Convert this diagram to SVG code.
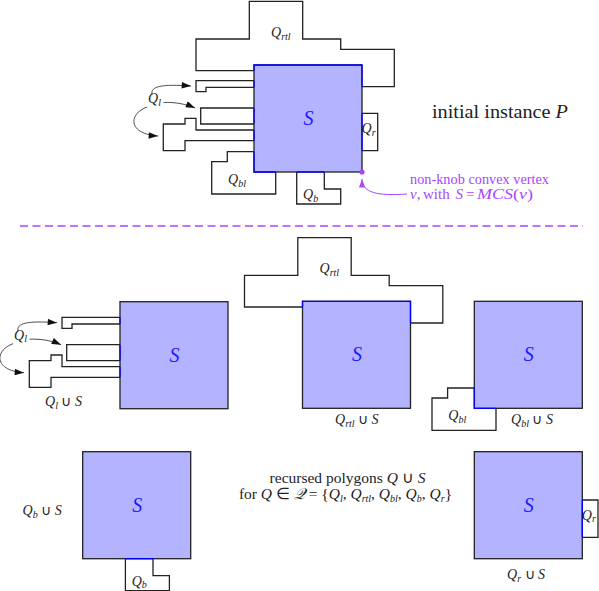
<svg xmlns="http://www.w3.org/2000/svg" xmlns:xlink="http://www.w3.org/1999/xlink" width="599" height="591" viewBox="0 0 599 591">
<style>
.q{fill:none;stroke:#222;stroke-width:1.3;stroke-linejoin:miter}
.sh{fill:none;stroke:#0000ff;stroke-width:1.3}
.s{fill:#b3b3ff;stroke:#222;stroke-width:1.3}
.t{font-family:"Liberation Serif","Times New Roman",serif;font-size:14px;fill:#222}
.i{font-style:italic}
.sub{font-style:italic;font-size:10px}
.sl{font-family:"Liberation Serif","Times New Roman",serif;font-style:italic;font-size:20px;fill:#1a1aff}
.pt{font-family:"Liberation Serif","Times New Roman",serif;font-size:15px;fill:#aa44ff}
.ar{fill:none;stroke:#222;stroke-width:0.8}
.par{fill:none;stroke:#aa44ff;stroke-width:1}
</style>
<defs>
<marker id="ah" viewBox="0 0 10 7" refX="10" refY="3.5" markerWidth="10" markerHeight="6.5" markerUnits="userSpaceOnUse" orient="auto"><path d="M0,0 L10,3.5 L0,7 z" fill="#111"/></marker>
<marker id="ahp" viewBox="0 0 10 7" refX="10" refY="3.5" markerWidth="9" markerHeight="6" markerUnits="userSpaceOnUse" orient="auto"><path d="M0,0 L10,3.5 L0,7 z" fill="#aa44ff"/></marker>
<g id="S"><rect class="s" x="254" y="65" width="108" height="107"/><text class="sl" x="308.5" y="125" text-anchor="middle">S</text></g>
<g id="Qrtl"><polyline class="q" points="254,70.7 196,70.7 196,39 249.3,39 249.3,1.3 302.7,1.3 302.7,39 340.7,39 340.7,49.3 394.3,49.3 394.3,86.7 362,86.7"/><polyline class="sh" points="254,70.7 254,65 362,65 362,86.7"/><text class="t" x="271" y="37"><tspan class="i">Q</tspan><tspan class="sub" dy="2.5">rtl</tspan></text></g>
<g id="Ql"><polyline class="q" points="254,80.7 196,80.7 196,91.7 206,91.7 206,87.3 254,87.3"/><polyline class="q" points="254,108 200.7,108 200.7,124 254,124"/><polyline class="q" points="254,130 196,130 196,118.3 185,118.3 185,124 163.3,124 163.3,150.7 185,150.7 185,140.7 254,140.7"/><line class="sh" x1="254" y1="80.7" x2="254" y2="87.3"/><line class="sh" x1="254" y1="108" x2="254" y2="124"/><line class="sh" x1="254" y1="130" x2="254" y2="140.7"/><text class="t" x="148" y="103"><tspan class="i">Q</tspan><tspan class="sub" dy="2.5">l</tspan></text></g>
<g id="QlArrows"><path class="ar" d="M152,95 C150,86 162,84 191,86" marker-end="url(#ah)"/><path class="ar" d="M163.5,102.5 C175,102 186,104 195,108" marker-end="url(#ah)"/><path class="ar" d="M147,107 C128,114 128,134 158,136" marker-end="url(#ah)"/></g>
<g id="Qr"><polyline class="q" points="362,113.3 377.7,113.3 377.7,150.7 362,150.7"/><line class="sh" x1="362" y1="113.3" x2="362" y2="150.7"/><text class="t" x="361.5" y="133"><tspan class="i">Q</tspan><tspan class="sub" dy="2.5">r</tspan></text></g>
<g id="Qbl"><polyline class="q" points="254,151.7 227.3,151.7 227.3,161.7 211.7,161.7 211.7,194 275.7,194 275.7,172"/><polyline class="sh" points="254,151.7 254,172 275.7,172"/><text class="t" x="228" y="184"><tspan class="i">Q</tspan><tspan class="sub" dy="2.5">bl</tspan></text></g>
<g id="Qb"><polyline class="q" points="296.7,172 296.7,204 340.7,204 340.7,189 324.3,189 324.3,172"/><line class="sh" x1="296.7" y1="172" x2="324.3" y2="172"/><text class="t" x="303" y="199"><tspan class="i">Q</tspan><tspan class="sub" dy="2.5">b</tspan></text></g>
</defs>

<g id="initial-instance">
<use href="#S"/>
<g id="node-Qrtl"><use href="#Qrtl"/></g>
<g id="node-Ql"><use href="#Ql"/></g>
<g id="node-Qr"><use href="#Qr"/></g>
<g id="node-Qbl"><use href="#Qbl"/></g>
<g id="node-Qb"><use href="#Qb"/></g>
<circle cx="362" cy="172" r="2.6" fill="#aa44ff"/>
<text class="t" x="432" y="118" textLength="136" lengthAdjust="spacingAndGlyphs" style="font-size:19px">initial instance <tspan class="i">P</tspan></text>
<text class="pt" x="410" y="184" textLength="139" lengthAdjust="spacingAndGlyphs">non-knob convex vertex</text>
<text class="pt" y="199"><tspan class="i" x="410">v</tspan><tspan>,</tspan><tspan x="423">with</tspan><tspan class="i" x="455.5">S</tspan><tspan x="466">=</tspan></text>
<text class="pt" x="477" y="199" textLength="56" lengthAdjust="spacingAndGlyphs"><tspan class="i">MCS</tspan>(<tspan class="i">v</tspan>)</text>
</g>

<line id="separator" x1="20" y1="226" x2="583" y2="226" stroke="#aa44ff" stroke-width="1.3" stroke-dasharray="8,4.5"/>

<g id="panel-Ql" transform="translate(-134,236.7)"><use href="#S"/><use href="#Ql"/></g>
<g id="panel-Qrtl" transform="translate(48.5,236.3)"><use href="#S"/><use href="#Qrtl"/></g>
<g id="panel-Qbl" transform="translate(220.3,236.3)"><use href="#S"/><use href="#Qbl"/></g>
<g id="panel-Qb" transform="translate(-171.3,386.7)"><use href="#S"/><use href="#Qb"/></g>
<g id="panel-Qr" transform="translate(220.3,386.7)"><use href="#S"/><use href="#Qr"/></g>

<g id="connectors">
<use href="#QlArrows"/>
<use href="#QlArrows" transform="translate(-134,236.7)"/>
<path class="par" d="M407,194 C378,196 362,193 362,179" marker-end="url(#ahp)"/>
</g>

<g id="labels">
<text class="t" x="45" y="406"><tspan class="i">Q</tspan><tspan class="sub" dy="2.5">l</tspan><tspan dy="-2.5"> ∪ </tspan><tspan class="i">S</tspan></text>
<text class="t" x="335" y="424"><tspan class="i">Q</tspan><tspan class="sub" dy="2.5">rtl</tspan><tspan dy="-2.5"> ∪ </tspan><tspan class="i">S</tspan></text>
<text class="t" x="511" y="424"><tspan class="i">Q</tspan><tspan class="sub" dy="2.5">bl</tspan><tspan dy="-2.5"> ∪ </tspan><tspan class="i">S</tspan></text>
<text class="t" x="22.5" y="515"><tspan class="i">Q</tspan><tspan class="sub" dy="2.5">b</tspan><tspan dy="-2.5"> ∪ </tspan><tspan class="i">S</tspan></text>
<text class="t" x="507" y="579"><tspan class="i">Q</tspan><tspan class="sub" dy="2.5">r</tspan><tspan dy="-2.5"> ∪ </tspan><tspan class="i">S</tspan></text>
<text class="t" x="347.5" y="483" text-anchor="middle" style="font-size:15.5px">recursed polygons <tspan class="i">Q</tspan> ∪ <tspan class="i">S</tspan></text>
<text class="t" x="345.5" y="499" text-anchor="middle" style="font-size:15.5px">for <tspan class="i">Q</tspan> ∈ <tspan font-family="DejaVu Serif,serif" font-style="italic">𝒬</tspan> = {<tspan class="i">Q</tspan><tspan class="sub" dy="2.5">l</tspan><tspan dy="-2.5">, </tspan><tspan class="i">Q</tspan><tspan class="sub" dy="2.5">rtl</tspan><tspan dy="-2.5">, </tspan><tspan class="i">Q</tspan><tspan class="sub" dy="2.5">bl</tspan><tspan dy="-2.5">, </tspan><tspan class="i">Q</tspan><tspan class="sub" dy="2.5">b</tspan><tspan dy="-2.5">, </tspan><tspan class="i">Q</tspan><tspan class="sub" dy="2.5">r</tspan><tspan dy="-2.5">}</tspan></text>
</g>
</svg>
